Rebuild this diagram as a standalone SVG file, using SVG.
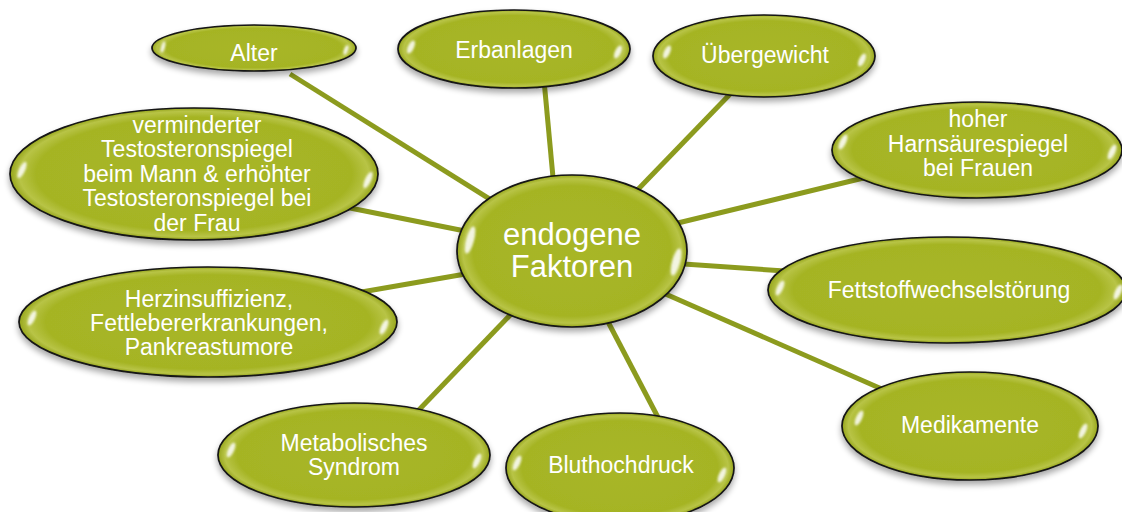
<svg xmlns="http://www.w3.org/2000/svg" width="1122" height="512" viewBox="0 0 1122 512">
<style>
.node{fill:url(#fillG);stroke:#141414;stroke-width:1.7;filter:url(#sh)}
.hl{fill:#ffffff;opacity:0.85;filter:url(#bl)}
.conn line{stroke:#8c9b1e;stroke-width:5}
.t{font-family:"Liberation Sans",Arial,sans-serif;font-size:23px;fill:#ffffff;text-anchor:middle}
.tc{font-size:31px}
</style>
<defs>
<radialGradient id="fillG" cx="50%" cy="50%" r="50%">
<stop offset="0" stop-color="#a8b628"/>
<stop offset="0.86" stop-color="#a5b424"/>
<stop offset="0.95" stop-color="#b8c446"/>
<stop offset="1" stop-color="#96a51c"/>
</radialGradient>
<filter id="sh" x="-10%" y="-15%" width="120%" height="140%">
<feGaussianBlur in="SourceAlpha" stdDeviation="3"/>
<feOffset dy="4" result="o"/>
<feComponentTransfer><feFuncA type="linear" slope="0.35"/></feComponentTransfer>
<feMerge><feMergeNode/><feMergeNode in="SourceGraphic"/></feMerge>
</filter>
<filter id="bl" x="-100%" y="-100%" width="300%" height="300%">
<feGaussianBlur stdDeviation="1.2"/>
</filter>
</defs>
<rect width="1122" height="512" fill="#ffffff"/>
<g id="connectors" class="conn">
<line x1="290" y1="74" x2="520" y2="218"/>
<line x1="544" y1="80" x2="556" y2="210"/>
<line x1="735" y1="89" x2="620" y2="208"/>
<line x1="880" y1="174" x2="620" y2="237"/>
<line x1="800" y1="272" x2="640" y2="261"/>
<line x1="900" y1="397" x2="620" y2="274"/>
<line x1="662" y1="425" x2="595" y2="297"/>
<line x1="415" y1="414" x2="540" y2="284"/>
<line x1="350" y1="294" x2="500" y2="268"/>
<line x1="340" y1="206" x2="500" y2="238"/>
</g>
<g id="n-alter">
<ellipse class="node" cx="254" cy="48" rx="102" ry="23"/>
<ellipse class="hl" cx="163" cy="47" rx="2" ry="6" transform="rotate(15 163 47)"/>
<ellipse class="hl" cx="346" cy="50" rx="2" ry="5" transform="rotate(20 346 50)"/>
<text class="t" x="254" y="61">Alter</text>
</g>
<g id="n-erbanlagen">
<ellipse class="node" cx="514" cy="49" rx="116" ry="39"/>
<ellipse class="hl" cx="411" cy="47" rx="3" ry="7" transform="rotate(25 411 47)"/>
<ellipse class="hl" cx="618" cy="52" rx="3" ry="7" transform="rotate(25 618 52)"/>
<text class="t" x="514" y="58">Erbanlagen</text>
</g>
<g id="n-uebergewicht">
<ellipse class="node" cx="764" cy="56" rx="111" ry="41"/>
<ellipse class="hl" cx="667" cy="52" rx="3" ry="7" transform="rotate(25 667 52)"/>
<ellipse class="hl" cx="862" cy="60" rx="3" ry="7" transform="rotate(25 862 60)"/>
<text class="t" x="765" y="63">Übergewicht</text>
</g>
<g id="n-harnsaeure">
<ellipse class="node" cx="977" cy="150" rx="145" ry="48"/>
<ellipse class="hl" cx="843" cy="142" rx="3" ry="8" transform="rotate(25 843 142)"/>
<ellipse class="hl" cx="1112" cy="152" rx="3" ry="8" transform="rotate(25 1112 152)"/>
<text class="t" x="978" y="127">hoher</text>
<text class="t" x="978" y="152">Harnsäurespiegel</text>
<text class="t" x="978" y="176">bei Frauen</text>
</g>
<g id="n-fettstoff">
<ellipse class="node" cx="947" cy="290" rx="179" ry="53"/>
<ellipse class="hl" cx="780" cy="288" rx="3" ry="8" transform="rotate(25 780 288)"/>
<ellipse class="hl" cx="1118" cy="292" rx="3" ry="8" transform="rotate(25 1118 292)"/>
<text class="t" x="949" y="298">Fettstoffwechselstörung</text>
</g>
<g id="n-medikamente">
<ellipse class="node" cx="970" cy="426" rx="128" ry="54"/>
<ellipse class="hl" cx="859" cy="418" rx="3" ry="8" transform="rotate(25 859 418)"/>
<ellipse class="hl" cx="1083" cy="431" rx="3" ry="8" transform="rotate(25 1083 431)"/>
<text class="t" x="970" y="433">Medikamente</text>
</g>
<g id="n-bluthochdruck">
<ellipse class="node" cx="620" cy="468" rx="114" ry="55"/>
<ellipse class="hl" cx="517" cy="463" rx="3" ry="8" transform="rotate(25 517 463)"/>
<ellipse class="hl" cx="722" cy="475" rx="3" ry="8" transform="rotate(25 722 475)"/>
<text class="t" x="621" y="473">Bluthochdruck</text>
</g>
<g id="n-metabolisch">
<ellipse class="node" cx="354" cy="455" rx="136" ry="52"/>
<ellipse class="hl" cx="231" cy="450" rx="3" ry="8" transform="rotate(25 231 450)"/>
<ellipse class="hl" cx="477" cy="461" rx="3" ry="8" transform="rotate(25 477 461)"/>
<text class="t" x="354" y="451">Metabolisches</text>
<text class="t" x="354" y="475">Syndrom</text>
</g>
<g id="n-herz">
<ellipse class="node" cx="208" cy="322" rx="189" ry="55"/>
<ellipse class="hl" cx="32" cy="318" rx="3" ry="8" transform="rotate(25 32 318)"/>
<ellipse class="hl" cx="384" cy="327" rx="3" ry="8" transform="rotate(25 384 327)"/>
<text class="t" x="209" y="307">Herzinsuffizienz,</text>
<text class="t" x="209" y="331">Fettlebererkrankungen,</text>
<text class="t" x="209" y="355">Pankreastumore</text>
</g>
<g id="n-testosteron">
<ellipse class="node" cx="194" cy="174" rx="184" ry="66"/>
<ellipse class="hl" cx="22" cy="170" rx="3" ry="9" transform="rotate(25 22 170)"/>
<ellipse class="hl" cx="368" cy="180" rx="3" ry="9" transform="rotate(25 368 180)"/>
<text class="t" x="197" y="133">verminderter</text>
<text class="t" x="197" y="157">Testosteronspiegel</text>
<text class="t" x="197" y="182">beim Mann &amp; erhöhter</text>
<text class="t" x="197" y="206">Testosteronspiegel bei</text>
<text class="t" x="197" y="231">der Frau</text>
</g>
<g id="n-center">
<ellipse class="node" cx="572" cy="251" rx="115" ry="76"/>
<ellipse class="hl" cx="470" cy="240" rx="4" ry="14" transform="rotate(15 470 240)"/>
<ellipse class="hl" cx="676" cy="262" rx="4" ry="14" transform="rotate(15 676 262)"/>
<text class="t tc" x="572" y="245">endogene</text>
<text class="t tc" x="572" y="277">Faktoren</text>
</g>
</svg>
